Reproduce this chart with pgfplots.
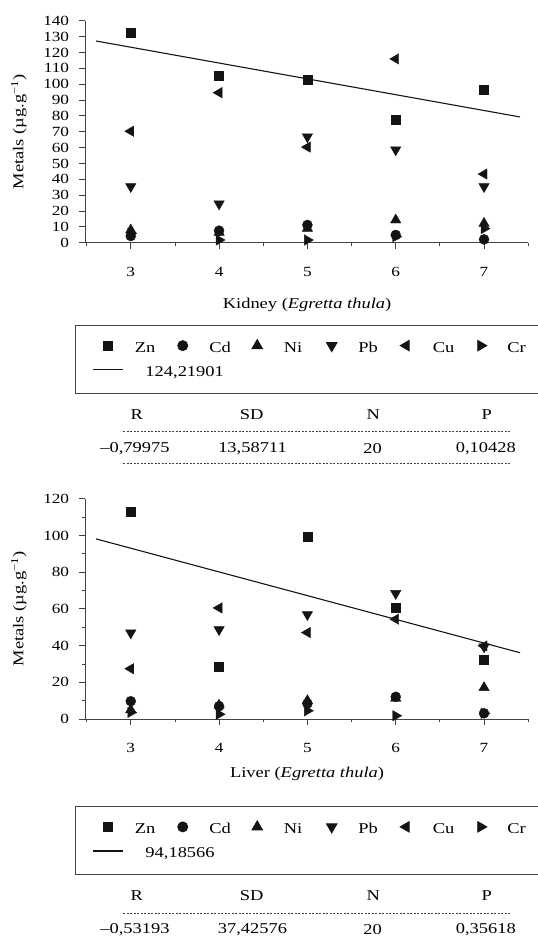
\documentclass[border=0pt]{standalone}
\usepackage{fontspec}
\setmainfont{Liberation Serif}[FakeStretch=1.23]
\usepackage{pgfplots}
\pgfplotsset{compat=1.18}

\definecolor{ink}{HTML}{141414}

\pgfplotsset{
  organ/.style={
    scale only axis, width=443.2pt,
    xmin=2.482, xmax=7.5, ymin=0,
    axis lines=left, axis line style={-, line width=0.9pt, draw=ink!80},
    tick align=outside, tick style={line width=0.8pt, draw=ink!80},
    major tick length=6pt, minor tick length=3pt,
    xtick={3,...,7}, minor xtick={2.5,3.5,...,7.5},
    clip=false,
    tick label style={font=\fontsize{14}{16}\selectfont, /pgf/number format/assume math mode=true},
    xticklabel style={anchor=center, yshift=-23pt},
    yticklabel style={anchor=east, inner xsep=0pt, xshift=-9.7pt},
    label style={font=\fontsize{15}{18}\selectfont},
    ylabel={Metals (µg.g\textsuperscript{−1})},
    legend columns=6,
    legend style={draw=ink!80, line width=0.9pt, inner xsep=16.7pt, inner ysep=14.4pt,
      column sep=11.6pt, row sep=11.6pt, font=\fontsize{15}{18}\selectfont,
      nodes={inner sep=0pt, text height=7pt, text depth=3pt}, anchor=north west},
    legend image code/.code={%
      \path[draw=none, fill=none] (0pt,1.5pt) rectangle (30pt,7.5pt);
      \draw[mark repeat=2,mark phase=2,#1]
        plot coordinates {(0pt,4.5pt) (15pt,4.5pt) (30pt,4.5pt)};},
  },
  zn/.style={only marks, mark=square*, mark size=4.5pt, draw=ink, fill=ink},
  cd/.style={only marks, mark=*, mark size=5pt, draw=ink, fill=ink},
  ni/.style={only marks, mark=triangle*, mark size=6pt, draw=ink, fill=ink},
  pb/.style={only marks, mark=triangle*, mark size=6pt, mark options={rotate=180}, draw=ink, fill=ink},
  cu/.style={only marks, mark=triangle*, mark size=6pt, mark options={rotate=90}, draw=ink, fill=ink},
  cr/.style={only marks, mark=triangle*, mark size=6pt, mark options={rotate=-90}, draw=ink, fill=ink},
  fit/.style={draw=ink, line width=1.1pt, mark=none},
}

\newcommand{\lent}[2][21.3pt]{\addlegendentry{\makebox[#1][l]{#2}}}

\begin{document}
\begin{tikzpicture}[font=\fontsize{15}{18}\selectfont]
\useasboundingbox (0,0) rectangle (538pt,-946pt);

% Kidney
\begin{axis}[organ, at={(85pt,-242.7pt)}, anchor=south west,
  height=222pt, ymax=140, ytick={0,10,...,140},
  xlabel={Kidney (\textit{Egretta thula})},
  xlabel style={at={(axis description cs:0.501,-0.2815)}, anchor=center},
  ylabel style={at={(axis description cs:-0.149,0.5)}, anchor=center, rotate=0},
  legend style={at={(axis description cs:-0.0226,-0.3697)}},
]
\addplot[zn] coordinates {(3,132.2) (4,105.3) (5,103.0) (6,77.8) (7,96.3)};
\lent{Zn}
\addplot[cd] coordinates {(3,4.2) (4,7.6) (5,11.2) (6,4.9) (7,2.1)};
\lent{Cd}
\addplot[ni] coordinates {(3,8.0) (4,6.5) (5,9.0) (6,14.3) (7,12.2)};
\lent{Ni}
\addplot[pb] coordinates {(3,35.4) (4,24.5) (5,66.8) (6,58.6) (7,35.4)};
\lent{Pb}
\addplot[cu] coordinates {(3,70.3) (4,94.6) (5,60.3) (6,115.9) (7,43.3)};
\lent{Cu}
\addplot[cr] coordinates {(3,5.9) (4,1.7) (5,1.7) (6,3.8) (7,8.9)};
\lent[17pt]{Cr}
\addplot[fit] coordinates {(2.607,127.2) (7.408,79.3)};
\lent[0pt]{124,21901}
\end{axis}

% Liver
\begin{axis}[organ, at={(85pt,-719pt)}, anchor=south west,
  height=220.3pt, ymax=120, ytick={0,20,...,120}, minor ytick={10,30,...,110},
  xlabel={Liver (\textit{Egretta thula})},
  xlabel style={at={(axis description cs:0.501,-0.247)}, anchor=center},
  ylabel style={at={(axis description cs:-0.149,0.5)}, anchor=center, rotate=0},
  legend style={at={(axis description cs:-0.0226,-0.395)}},
]
\addplot[zn] coordinates {(3,113.1) (4,28.7) (5,99.3) (6,60.6) (7,32.5)};
\lent{Zn}
\addplot[cd] coordinates {(3,9.7) (4,7.0) (5,8.4) (6,12.1) (7,3.1)};
\lent{Cd}
\addplot[ni] coordinates {(3,5.0) (4,7.5) (5,10.0) (6,11.3) (7,17.1)};
\lent{Ni}
\addplot[pb] coordinates {(3,46.9) (4,48.7) (5,56.9) (6,68.4) (7,39.3)};
\lent{Pb}
\addplot[cu] coordinates {(3,27.4) (4,60.5) (5,47.1) (6,54.4) (7,39.8)};
\lent{Cu}
\addplot[cr] coordinates {(3,3.6) (4,2.6) (5,4.5) (6,1.8) (7,3.1)};
\lent[17pt]{Cr}
\addplot[fit] coordinates {(2.608,98.1) (7.408,36.1)};
\lent[0pt]{94,18566}
\end{axis}

% statistics tables
\tikzset{dashrule/.style={draw=ink!80, line width=0.6pt, dash pattern=on 2pt off 1.5pt}}
\foreach \x/\t in {136.7/R, 251.7/SD, 373.3/N, 486.7/P} {
  \node at (\x pt,-415pt) {\t};
  \node at (\x pt,-896pt) {\t};
}
\draw[dashrule] (123.3pt,-431.7pt) -- (511.7pt,-431.7pt);
\draw[dashrule] (123.3pt,-463.3pt) -- (511.7pt,-463.3pt);
\draw[dashrule] (123.3pt,-913pt) -- (511.7pt,-913pt);
\foreach \x/\t in {135/{–0,79975}, 252.5/{13,58711}, 372.5/{20}, 485.8/{0,10428}}
  \node at (\x pt,-448.3pt) {\t};
\foreach \x/\t in {135/{–0,53193}, 252.5/{37,42576}, 372.5/{20}, 485.8/{0,35618}}
  \node at (\x pt,-930pt) {\t};
\end{tikzpicture}
\end{document}
